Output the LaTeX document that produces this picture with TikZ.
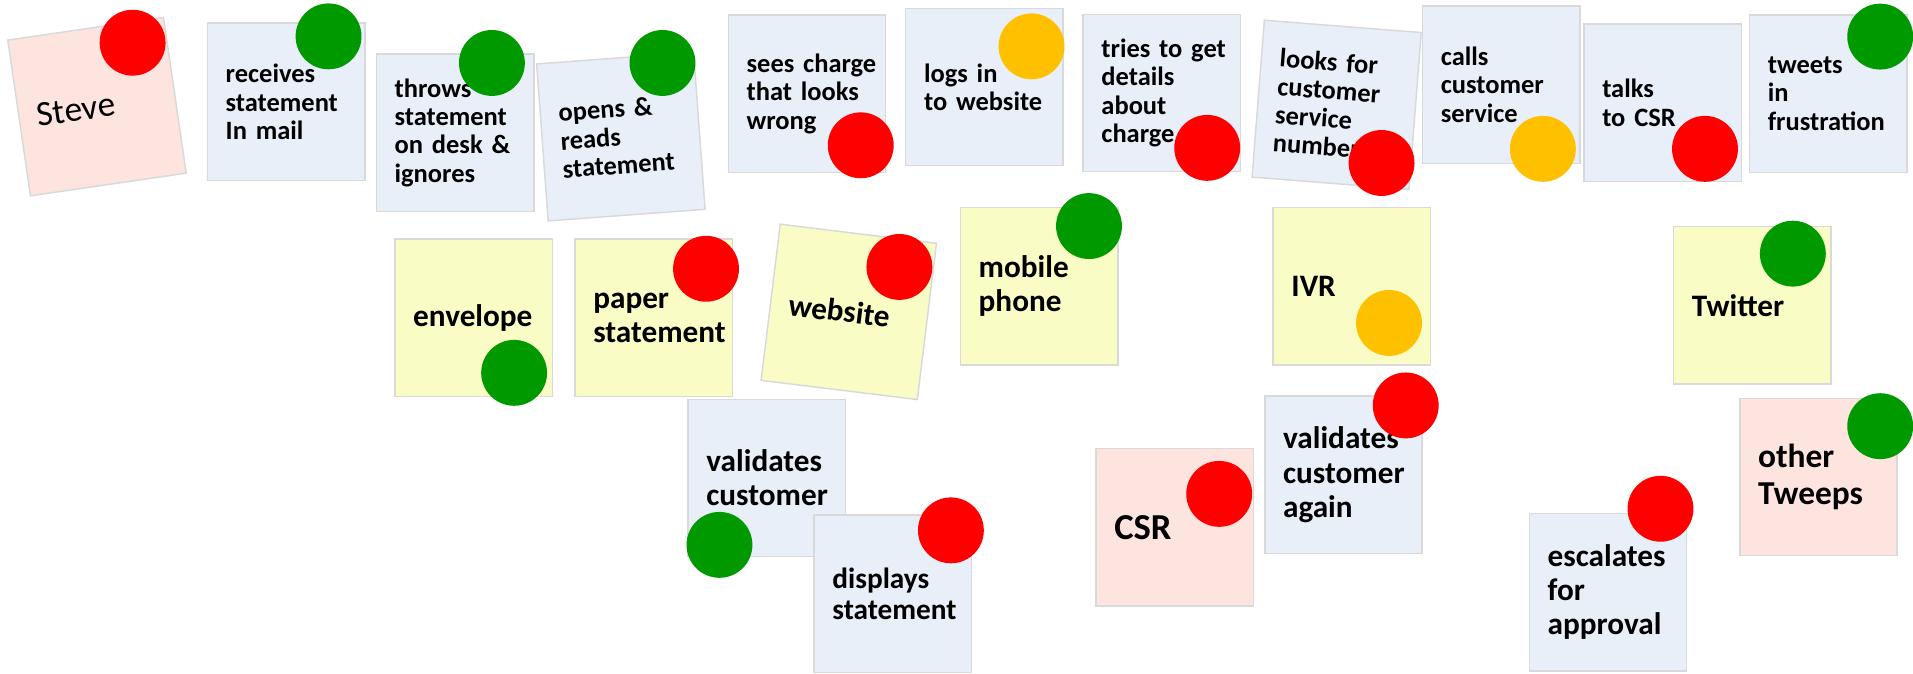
\documentclass[tikz,border=0pt]{standalone}
\usepackage{fontspec}
\setmainfont{Carlito}
\usepackage{tikz}
\usetikzlibrary{positioning}
\definecolor{noteblue}{HTML}{E9EFF8}
\definecolor{noteyellow}{HTML}{FAFCC6}
\definecolor{notepink}{HTML}{FDE4DF}
\definecolor{noteedge}{HTML}{D9D9D9}
\definecolor{pinred}{HTML}{FF0000}
\definecolor{pingreen}{HTML}{009900}
\definecolor{pinamber}{HTML}{FFC000}
\tikzstyle{sticky}=[draw=noteedge,line width=1.2pt,minimum height=129pt,text width=99pt,inner xsep=15pt,inner ysep=0pt,align=left]
\tikzstyle{stepnote}=[sticky,fill=noteblue,font=\bfseries\fontsize{21.7}{23.2}\selectfont]
\tikzstyle{thingnote}=[sticky,fill=noteyellow,font=\bfseries\fontsize{25.6}{27.5}\selectfont]
\tikzstyle{lownote}=[sticky,fill=noteblue,font=\bfseries\fontsize{25.6}{28}\selectfont]
\tikzstyle{whonote}=[sticky,fill=notepink,font=\bfseries\fontsize{27.4}{30}\selectfont]
\tikzstyle{pin}=[circle,minimum size=54pt,inner sep=0pt]
\tikzstyle{redpin}=[pin,fill=pinred]
\tikzstyle{greenpin}=[pin,fill=pingreen]
\tikzstyle{amberpin}=[pin,fill=pinamber]

\begin{document}
\begin{tikzpicture}[x=1pt,y=-1pt]
    \useasboundingbox (0,0) rectangle (1568,552);
    % top row: what Steve does
    \node [whonote,rotate=8.3,font=\fontsize{29}{32}\selectfont] (steve) at (79.5,87.4) {Steve};
    \node [redpin] (stevepin) at (108.7,35) {};
    \node [stepnote] (receives) at (234.5,83.5) {receives\\statement\\In~mail};
    \node [greenpin] (receivespin) at (269.3,29.8) {};
    \node [stepnote] (throws) at (373,108.7) {throws\\statement\\on~desk~\&\\ignores};
    \node [greenpin] (throwspin) at (403.2,51.6) {};
    \node [stepnote,rotate=4.2] (opens) at (508.9,112) {opens~\&\\reads\\statement};
    \node [greenpin] (openspin) at (543,51.6) {};
    \node [stepnote] (sees) at (661.5,76.9) {sees~charge\\that~looks\\wrong};
    \node [redpin] (seespin) at (705.5,119.1) {};
    \node [stepnote] (logs) at (806.9,71.3) {logs~in\\to~website};
    \node [amberpin] (logspin) at (845.5,38) {};
    \node [stepnote] (tries) at (952.3,76.2) {tries~to~get\\details\\about\\charge};
    \node [redpin] (triespin) at (989.5,121.2) {};
    \node [stepnote,rotate=-4.5] (looks) at (1095.6,85.9) {looks~for\\customer\\service\\number};
    \node [redpin] (lookspin) at (1132.4,133.6) {};
    \node [stepnote] (calls) at (1230.5,69.3) {calls\\customer\\service};
    \node [amberpin] (callspin) at (1264.6,122) {};
    \node [stepnote] (talks) at (1362.8,84.3) {talks\\to~CSR};
    \node [redpin] (talkspin) at (1397.5,122) {};
    \node [stepnote] (tweets) at (1498.5,76.8) {tweets\\in\\frustration};
    \node [greenpin] (tweetspin) at (1541.1,30) {};
    % middle row: things he touches
    \node [thingnote] (envelope) at (388.2,260.4) {envelope};
    \node [greenpin] (envelopepin) at (421.4,305.6) {};
    \node [thingnote] (paper) at (535.8,260.4) {paper\\statement};
    \node [redpin] (paperpin) at (578.7,220.3) {};
    \node [thingnote,rotate=-7] (website) at (695.7,255.6) {website};
    \node [redpin] (websitepin) at (737.2,218.8) {};
    \node [thingnote] (mobile) at (851.7,234.5) {mobile\\phone};
    \node [greenpin] (mobilepin) at (892.6,185.3) {};
    \node [thingnote] (ivr) at (1108,234.7) {IVR};
    \node [amberpin] (ivrpin) at (1138.5,264.7) {};
    \node [thingnote] (twitter) at (1436.2,250.3) {Twitter};
    \node [greenpin] (twitterpin) at (1469.5,207.9) {};
    % bottom row: what the others do
    \node [lownote] (validates) at (628.5,391.8) {validates\\customer};
    \node [greenpin] (validatespin) at (589.7,446.6) {};
    \node [lownote,font=\bfseries\fontsize{24}{25.4}\selectfont] (displays) at (731.8,486.7) {displays\\statement};
    \node [redpin] (displayspin) at (779.4,434.7) {};
    \node [whonote,font=\bfseries\fontsize{30}{32}\selectfont] (csr) at (962.8,432.3) {CSR};
    \node [redpin] (csrpin) at (999.3,404.8) {};
    \node [lownote] (again) at (1101.2,389.1) {validates\\customer\\again};
    \node [redpin] (againpin) at (1152.2,332.3) {};
    \node [lownote] (escalates) at (1318,485.3) {escalates\\for\\approval};
    \node [redpin] (escalatespin) at (1361,417) {};
    \node [whonote] (tweeps) at (1490.5,391) {other\\Tweeps};
    \node [greenpin] (tweepspin) at (1541.1,349.3) {};
\end{tikzpicture}
\end{document}
